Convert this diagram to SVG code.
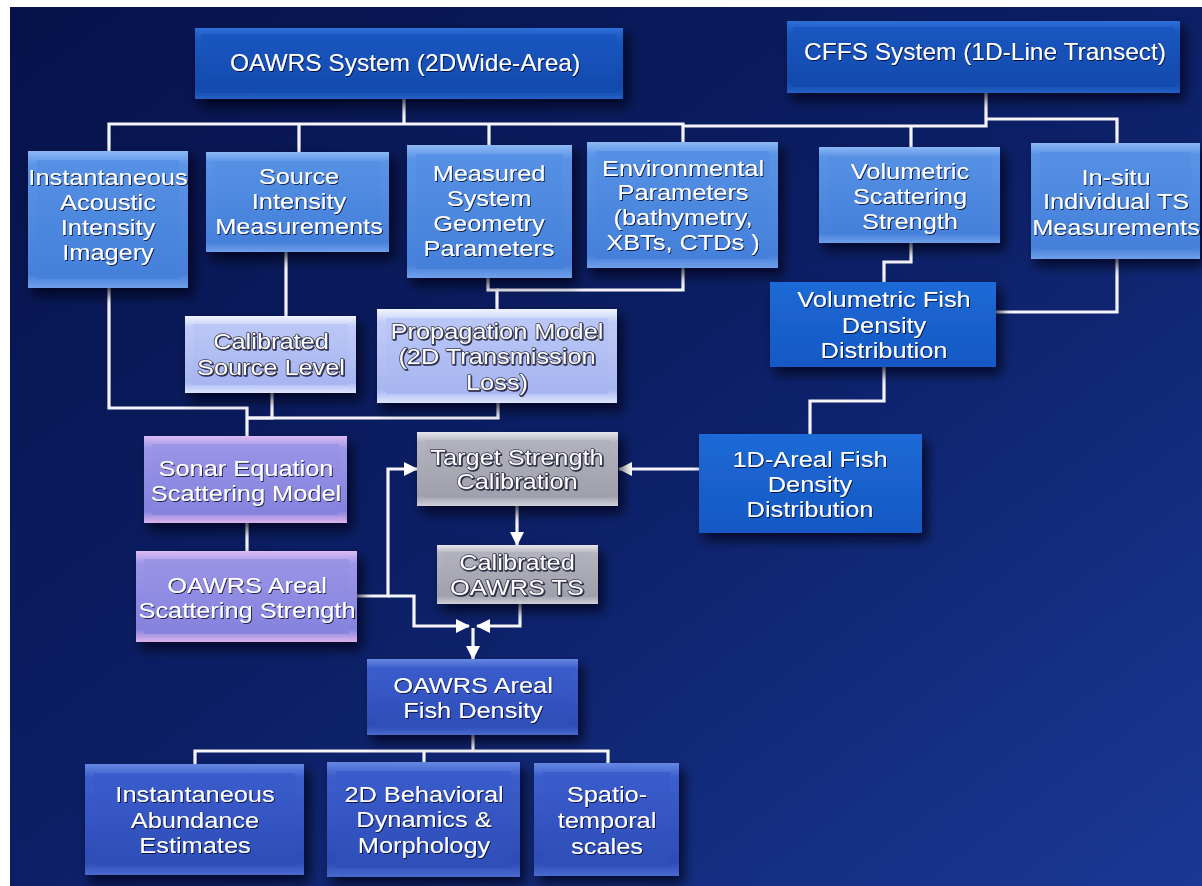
<svg xmlns="http://www.w3.org/2000/svg" width="1202" height="886" viewBox="0 0 1202 886">
<defs>
<linearGradient id="bg" x1="0" y1="0" x2="1" y2="1">
<stop offset="0" stop-color="#06124a"/><stop offset="0.5" stop-color="#0c1f66"/><stop offset="1" stop-color="#1a3894"/>
</linearGradient>
<linearGradient id="hdrE" x1="0" y1="0" x2="0" y2="1"><stop offset="0" stop-color="#2e6fd8"/><stop offset="0.15" stop-color="#1a58c0"/><stop offset="0.85" stop-color="#1248ac"/><stop offset="1" stop-color="#2460c4"/></linearGradient>
<linearGradient id="hdrF" x1="0" y1="0" x2="0" y2="1"><stop offset="0" stop-color="#1a56c0"/><stop offset="1" stop-color="#124aae"/></linearGradient>
<linearGradient id="bluE" x1="0" y1="0" x2="0" y2="1"><stop offset="0" stop-color="#8cb8f4"/><stop offset="0.1" stop-color="#5a94e6"/><stop offset="0.9" stop-color="#4680da"/><stop offset="1" stop-color="#70a0ea"/></linearGradient>
<linearGradient id="bluF" x1="0" y1="0" x2="0" y2="1"><stop offset="0" stop-color="#5590e4"/><stop offset="1" stop-color="#4480da"/></linearGradient>
<linearGradient id="lavE" x1="0" y1="0" x2="0" y2="1"><stop offset="0" stop-color="#f2f5ff"/><stop offset="0.14" stop-color="#c0ccf6"/><stop offset="0.86" stop-color="#a8b6f0"/><stop offset="1" stop-color="#dfe6fc"/></linearGradient>
<linearGradient id="lavF" x1="0" y1="0" x2="0" y2="1"><stop offset="0" stop-color="#bac7f6"/><stop offset="1" stop-color="#a6b4f0"/></linearGradient>
<linearGradient id="purE" x1="0" y1="0" x2="0" y2="1"><stop offset="0" stop-color="#dcbcf2"/><stop offset="0.14" stop-color="#9c96e8"/><stop offset="0.86" stop-color="#8482de"/><stop offset="1" stop-color="#dcb4ec"/></linearGradient>
<linearGradient id="purF" x1="0" y1="0" x2="0" y2="1"><stop offset="0" stop-color="#9a94e6"/><stop offset="1" stop-color="#8582de"/></linearGradient>
<linearGradient id="gryE" x1="0" y1="0" x2="0" y2="1"><stop offset="0" stop-color="#e6e6ee"/><stop offset="0.14" stop-color="#b4b4be"/><stop offset="0.86" stop-color="#a0a0ac"/><stop offset="1" stop-color="#d0d0d8"/></linearGradient>
<linearGradient id="gryF" x1="0" y1="0" x2="0" y2="1"><stop offset="0" stop-color="#b2b2bc"/><stop offset="1" stop-color="#a0a0ac"/></linearGradient>
<linearGradient id="fltF" x1="0" y1="0" x2="0" y2="1"><stop offset="0" stop-color="#1e6ad6"/><stop offset="1" stop-color="#1558c4"/></linearGradient>
<linearGradient id="drkE" x1="0" y1="0" x2="0" y2="1"><stop offset="0" stop-color="#6688e2"/><stop offset="0.12" stop-color="#3c5ecc"/><stop offset="0.88" stop-color="#2e4cb6"/><stop offset="1" stop-color="#4a6ad0"/></linearGradient>
<linearGradient id="drkF" x1="0" y1="0" x2="0" y2="1"><stop offset="0" stop-color="#3a5ccc"/><stop offset="1" stop-color="#2e4eb8"/></linearGradient>
<filter id="sh" x="-20%" y="-20%" width="150%" height="160%"><feDropShadow dx="5" dy="7" stdDeviation="6" flood-color="#000010" flood-opacity="0.75"/></filter>
<filter id="tsh" x="-10%" y="-10%" width="120%" height="130%"><feDropShadow dx="0.8" dy="1" stdDeviation="0.6" flood-color="#000020" flood-opacity="0.8"/></filter>
<marker id="ah" markerUnits="userSpaceOnUse" markerWidth="16" markerHeight="16" refX="13" refY="8" orient="auto"><path d="M0,1 L14,8 L0,15 Z" fill="#ffffff"/></marker>
<style>
.lbl text{font-family:"Liberation Sans",Arial,sans-serif;font-size:21.5px;fill:#ffffff;text-anchor:middle}
.hd text{font-size:23px}
.emb text{stroke:#3c3c52;stroke-width:1.3px;paint-order:stroke;stroke-linejoin:round}
.lbl{filter:url(#tsh)}
.out{filter:url(#sh)}
.face{opacity:0.9}
.con path{fill:none;stroke:#f4f4fa;stroke-width:3.2;stroke-linejoin:miter}
.arr{marker-end:url(#ah)}
</style>
</defs>
<rect x="0" y="0" width="1202" height="886" fill="#ffffff"/>
<rect x="10" y="7" width="1192" height="879" fill="url(#bg)"/>

<g id="connectors" class="con">
<path d="M404,99 V124"/>
<path d="M109,151 V124 H683 V142"/>
<path d="M299,124 V152"/>
<path d="M489,124 V145"/>
<path d="M683,126 H986 V93"/>
<path d="M911,126 V147"/>
<path d="M986,119 H1117 V143"/>
<path d="M286,252 V316"/>
<path d="M488,278 V290 H497 V309"/>
<path d="M683,268 V290 H497"/>
<path d="M109,288 V408 H247 V436"/>
<path d="M272,393 V418 H247"/>
<path d="M498,403 V418 H247"/>
<path d="M247,523 V551"/>
<path d="M911,243 V262 H884 V282"/>
<path d="M1117,259 V312 H996"/>
<path d="M884,367 V401 H810 V434"/>
<path class="arr" d="M699,469 H619"/>
<path class="arr" d="M357,596 H388 V469 H417"/>
<path class="arr" d="M388,596 H414 V626 H469"/>
<path class="arr" d="M520,604 V626 H477"/>
<path class="arr" d="M473,628 V659"/>
<path class="arr" d="M517,506 V545"/>
<path d="M473,735 V751"/>
<path d="M195,764 V751 H608 V763"/>
<path d="M424,751 V762"/>
</g>

<g id="oawrs">
<rect class="out" x="195" y="28" width="428" height="71" fill="url(#hdrE)"/>
<rect class="face" x="201" y="34" width="416" height="59" fill="url(#hdrF)"/>
<g class="lbl hd" transform="translate(405 0) scale(1.065 1)"><text x="0" y="71">OAWRS System (2DWide-Area)</text></g>
</g>
<g id="cffs">
<rect class="out" x="787" y="21" width="393" height="72" fill="url(#hdrE)"/>
<rect class="face" x="793" y="27" width="381" height="60" fill="url(#hdrF)"/>
<g class="lbl hd" transform="translate(985 0) scale(1.065 1)"><text x="0" y="60">CFFS System (1D-Line Transect)</text></g>
</g>
<g id="inst-imagery">
<rect class="out" x="28" y="151" width="160" height="137" fill="url(#bluE)"/>
<rect class="face" x="37" y="160" width="142" height="119" fill="url(#bluF)"/>
<g class="lbl" transform="translate(108 0) scale(1.18 1)"><text x="0" y="185">Instantaneous</text><text x="0" y="210">Acoustic</text><text x="0" y="235">Intensity</text><text x="0" y="260">Imagery</text></g>
</g>
<g id="source-intensity">
<rect class="out" x="206" y="152" width="183" height="100" fill="url(#bluE)"/>
<rect class="face" x="215" y="161" width="165" height="82" fill="url(#bluF)"/>
<g class="lbl" transform="translate(299 0) scale(1.18 1)"><text x="0" y="184">Source</text><text x="0" y="209">Intensity</text><text x="0" y="234">Measurements</text></g>
</g>
<g id="measured-geometry">
<rect class="out" x="407" y="145" width="165" height="133" fill="url(#bluE)"/>
<rect class="face" x="416" y="154" width="147" height="115" fill="url(#bluF)"/>
<g class="lbl" transform="translate(489 0) scale(1.18 1)"><text x="0" y="181">Measured</text><text x="0" y="206">System</text><text x="0" y="231">Geometry</text><text x="0" y="256">Parameters</text></g>
</g>
<g id="environmental">
<rect class="out" x="587" y="142" width="191" height="126" fill="url(#bluE)"/>
<rect class="face" x="596" y="151" width="173" height="108" fill="url(#bluF)"/>
<g class="lbl" transform="translate(683 0) scale(1.18 1)"><text x="0" y="176">Environmental</text><text x="0" y="200">Parameters</text><text x="0" y="225">(bathymetry,</text><text x="0" y="250">XBTs, CTDs )</text></g>
</g>
<g id="vol-scattering">
<rect class="out" x="819" y="147" width="181" height="96" fill="url(#bluE)"/>
<rect class="face" x="828" y="156" width="163" height="78" fill="url(#bluF)"/>
<g class="lbl" transform="translate(910 0) scale(1.18 1)"><text x="0" y="179">Volumetric</text><text x="0" y="204">Scattering</text><text x="0" y="229">Strength</text></g>
</g>
<g id="insitu-ts">
<rect class="out" x="1031" y="143" width="169" height="116" fill="url(#bluE)"/>
<rect class="face" x="1040" y="152" width="151" height="98" fill="url(#bluF)"/>
<g class="lbl" transform="translate(1116 0) scale(1.18 1)"><text x="0" y="185">In-situ</text><text x="0" y="209">Individual TS</text><text x="0" y="235">Measurements</text></g>
</g>
<g id="cal-source-level">
<rect class="out" x="185" y="316" width="171" height="77" fill="url(#lavE)"/>
<rect class="face" x="193" y="324" width="155" height="61" fill="url(#lavF)"/>
<g class="lbl emb" transform="translate(271 0) scale(1.18 1)"><text x="0" y="349">Calibrated</text><text x="0" y="375">Source Level</text></g>
</g>
<g id="propagation-model">
<rect class="out" x="377" y="309" width="240" height="94" fill="url(#lavE)"/>
<rect class="face" x="386" y="318" width="222" height="76" fill="url(#lavF)"/>
<g class="lbl emb" transform="translate(497 0) scale(1.18 1)"><text x="0" y="339">Propagation Model</text><text x="0" y="364">(2D Transmission</text><text x="0" y="390">Loss)</text></g>
</g>
<g id="vol-fish-density">
<rect class="out" x="770" y="282" width="226" height="85" fill="url(#fltF)"/>
<g class="lbl" transform="translate(884 0) scale(1.18 1)"><text x="0" y="307">Volumetric Fish</text><text x="0" y="333">Density</text><text x="0" y="358">Distribution</text></g>
</g>
<g id="sonar-equation">
<rect class="out" x="144" y="436" width="203" height="87" fill="url(#purE)"/>
<rect class="face" x="152" y="444" width="187" height="71" fill="url(#purF)"/>
<g class="lbl" transform="translate(246 0) scale(1.18 1)"><text x="0" y="476">Sonar Equation</text><text x="0" y="501">Scattering Model</text></g>
</g>
<g id="target-strength">
<rect class="out" x="417" y="432" width="201" height="74" fill="url(#gryE)"/>
<rect class="face" x="425" y="440" width="185" height="58" fill="url(#gryF)"/>
<g class="lbl emb" transform="translate(517 0) scale(1.18 1)"><text x="0" y="465">Target Strength</text><text x="0" y="489">Calibration</text></g>
</g>
<g id="areal-1d-density">
<rect class="out" x="699" y="434" width="223" height="99" fill="url(#fltF)"/>
<g class="lbl" transform="translate(810 0) scale(1.18 1)"><text x="0" y="467">1D-Areal Fish</text><text x="0" y="492">Density</text><text x="0" y="517">Distribution</text></g>
</g>
<g id="cal-oawrs-ts">
<rect class="out" x="437" y="545" width="161" height="59" fill="url(#gryE)"/>
<rect class="face" x="444" y="552" width="147" height="45" fill="url(#gryF)"/>
<g class="lbl emb" transform="translate(517 0) scale(1.18 1)"><text x="0" y="570">Calibrated</text><text x="0" y="595">OAWRS TS</text></g>
</g>
<g id="areal-scattering">
<rect class="out" x="136" y="551" width="221" height="91" fill="url(#purE)"/>
<rect class="face" x="144" y="559" width="205" height="75" fill="url(#purF)"/>
<g class="lbl" transform="translate(247 0) scale(1.18 1)"><text x="0" y="593">OAWRS Areal</text><text x="0" y="618">Scattering Strength</text></g>
</g>
<g id="areal-fish-density">
<rect class="out" x="367" y="659" width="211" height="76" fill="url(#drkE)"/>
<rect class="face" x="375" y="667" width="195" height="60" fill="url(#drkF)"/>
<g class="lbl" transform="translate(473 0) scale(1.18 1)"><text x="0" y="693">OAWRS Areal</text><text x="0" y="718">Fish Density</text></g>
</g>
<g id="abundance">
<rect class="out" x="85" y="764" width="219" height="111" fill="url(#drkE)"/>
<rect class="face" x="94" y="773" width="201" height="93" fill="url(#drkF)"/>
<g class="lbl" transform="translate(195 0) scale(1.18 1)"><text x="0" y="802">Instantaneous</text><text x="0" y="828">Abundance</text><text x="0" y="853">Estimates</text></g>
</g>
<g id="behavioral">
<rect class="out" x="327" y="762" width="193" height="115" fill="url(#drkE)"/>
<rect class="face" x="336" y="771" width="175" height="97" fill="url(#drkF)"/>
<g class="lbl" transform="translate(424 0) scale(1.18 1)"><text x="0" y="802">2D Behavioral</text><text x="0" y="827">Dynamics &amp;</text><text x="0" y="853">Morphology</text></g>
</g>
<g id="spatiotemporal">
<rect class="out" x="534" y="763" width="145" height="113" fill="url(#drkE)"/>
<rect class="face" x="543" y="772" width="127" height="95" fill="url(#drkF)"/>
<g class="lbl" transform="translate(607 0) scale(1.18 1)"><text x="0" y="802">Spatio-</text><text x="0" y="828">temporal</text><text x="0" y="854">scales</text></g>
</g>
</svg>
